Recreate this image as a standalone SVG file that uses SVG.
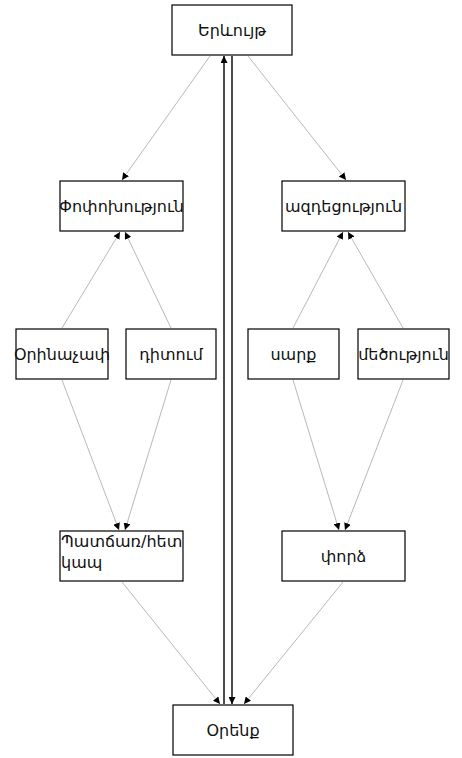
<svg xmlns="http://www.w3.org/2000/svg" width="462" height="758" viewBox="0 0 462 758">
  <style>
    .box { fill: #ffffff; stroke: #000000; stroke-width: 1.2; }
    .lbl { font-family: "DejaVu Sans", "Noto Sans", sans-serif; font-size: 16px; fill: #111111; }
    .edge { stroke: #b8b8b8; stroke-width: 1; fill: none; marker-end: url(#tip); }
    .main { stroke: #111111; stroke-width: 1.5; fill: none; marker-end: url(#tip); }
  </style>
  <defs>
    <marker id="tip" viewBox="0 0 10 10" refX="10" refY="5" markerWidth="7" markerHeight="7" markerUnits="userSpaceOnUse" orient="auto">
      <path d="M0,0 L10,5 L0,10 z" fill="#000000"/>
    </marker>
  </defs>

  <rect width="462" height="758" fill="#ffffff"/>

  <g id="connectors">
    <!-- top to second row -->
    <line class="edge" x1="210" y1="56" x2="122" y2="180"/>
    <line class="edge" x1="248" y1="56" x2="346" y2="180"/>
    <!-- third row up to second row -->
    <line class="edge" x1="62" y1="328" x2="120" y2="232"/>
    <line class="edge" x1="171" y1="328" x2="125" y2="232"/>
    <line class="edge" x1="293" y1="328" x2="343" y2="232"/>
    <line class="edge" x1="403" y1="328" x2="348" y2="232"/>
    <!-- third row down to fourth row -->
    <line class="edge" x1="62" y1="380" x2="119" y2="530"/>
    <line class="edge" x1="171" y1="380" x2="125" y2="530"/>
    <line class="edge" x1="293" y1="380" x2="339" y2="530"/>
    <line class="edge" x1="403" y1="380" x2="345" y2="530"/>
    <!-- fourth row to bottom -->
    <line class="edge" x1="122" y1="582" x2="220" y2="704"/>
    <line class="edge" x1="343" y1="582" x2="244" y2="704"/>
    <!-- direct links between top and bottom -->
    <line class="main" x1="224" y1="704" x2="224" y2="56"/>
    <line class="main" x1="232" y1="56" x2="232" y2="704"/>
  </g>

  <g id="n-erevuyt">
    <rect class="box" x="172" y="5" width="120" height="50"/>
    <text class="lbl" x="232" y="36" text-anchor="middle">Երևույթ</text>
  </g>
  <g id="n-popoxutyun">
    <rect class="box" x="60" y="181" width="123" height="50"/>
    <text class="lbl" x="121.5" y="212" text-anchor="middle">Փոփոխություն</text>
  </g>
  <g id="n-azdecutyun">
    <rect class="box" x="282" y="181" width="123" height="50"/>
    <text class="lbl" x="343.5" y="212" text-anchor="middle">ազդեցություն</text>
  </g>
  <g id="n-orinachap">
    <rect class="box" x="16" y="329" width="92" height="50"/>
    <text class="lbl" x="62" y="360" text-anchor="middle">Օրինաչափ</text>
  </g>
  <g id="n-ditum">
    <rect class="box" x="126" y="329" width="90" height="50"/>
    <text class="lbl" x="171" y="360" text-anchor="middle">դիտում</text>
  </g>
  <g id="n-sarq">
    <rect class="box" x="248" y="329" width="91" height="50"/>
    <text class="lbl" x="293.5" y="360" text-anchor="middle">սարք</text>
  </g>
  <g id="n-mecutyun">
    <rect class="box" x="358" y="329" width="91" height="50"/>
    <text class="lbl" x="403.5" y="360" text-anchor="middle">մեծություն</text>
  </g>
  <g id="n-patchar">
    <rect class="box" x="60" y="531" width="123" height="50"/>
    <text class="lbl" x="61" y="547">Պատճառ/հետ</text>
    <text class="lbl" x="61" y="568">կապ</text>
  </g>
  <g id="n-pord">
    <rect class="box" x="282" y="531" width="123" height="50"/>
    <text class="lbl" x="343.5" y="562" text-anchor="middle">փորձ</text>
  </g>
  <g id="n-orenq">
    <rect class="box" x="173" y="705" width="120" height="50"/>
    <text class="lbl" x="233" y="736" text-anchor="middle">Օրենք</text>
  </g>
</svg>
